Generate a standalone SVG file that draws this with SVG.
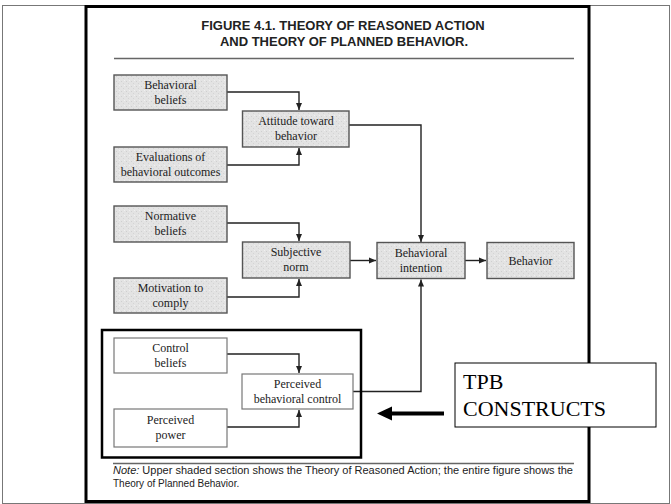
<svg xmlns="http://www.w3.org/2000/svg" width="671" height="504" viewBox="0 0 671 504">
<style>
.shaded{fill:url(#stip);stroke:#555;stroke-width:1.4}
.plain{fill:#fff;stroke:#777;stroke-width:1.2}
.bt{font-family:"Liberation Serif","DejaVu Serif",serif;font-size:12px;fill:#222;text-anchor:middle}
.title{font-family:"Liberation Sans","DejaVu Sans",sans-serif;font-weight:bold;font-size:13px;fill:#222;text-anchor:middle}
.note{font-family:"Liberation Sans","DejaVu Sans",sans-serif;font-size:10px;fill:#222}
.conn{fill:none;stroke:#222;stroke-width:1.4}
.rule{stroke:#666;stroke-width:1.6}
</style>
<defs>
<marker id="ah" markerWidth="8" markerHeight="8" refX="7" refY="4" orient="auto" markerUnits="userSpaceOnUse">
<path d="M0,1 L7,4 L0,7 Z" fill="#222"/>
</marker>
<pattern id="stip" width="5" height="5" patternUnits="userSpaceOnUse">
<rect width="5" height="5" fill="#e3e3e3"/>
<rect x="1" y="1" width="1" height="1" fill="#cfcfcf"/>
<rect x="3" y="3" width="1" height="1" fill="#d4d4d4"/>
<rect x="4" y="0" width="1" height="1" fill="#f0f0f0"/>
</pattern>
</defs>
<rect x="0" y="0" width="671" height="504" fill="#fff"/>
<rect x="2.5" y="5.5" width="667" height="498" fill="none" stroke="#777" stroke-width="1"/>
<rect x="86" y="6.5" width="503" height="495" fill="none" stroke="#000" stroke-width="3"/>
<g id="title">
<text class="title" x="343" y="30">FIGURE 4.1.  THEORY OF REASONED ACTION</text>
<text class="title" x="344" y="46">AND THEORY OF PLANNED BEHAVIOR.</text>
<line class="rule" x1="114" y1="58.5" x2="574" y2="58.5"/>
</g>
<g id="connectors">
<path class="conn" d="M227,92 H299 V110" marker-end="url(#ah)"/>
<path class="conn" d="M227,165 H299 V148" marker-end="url(#ah)"/>
<path class="conn" d="M227,223 H299 V241" marker-end="url(#ah)"/>
<path class="conn" d="M227,297 H299 V279" marker-end="url(#ah)"/>
<path class="conn" d="M349,125 H421 V242" marker-end="url(#ah)"/>
<path class="conn" d="M350,260.5 H376" marker-end="url(#ah)"/>
<path class="conn" d="M465,260.5 H486" marker-end="url(#ah)"/>
<path class="conn" d="M227,354 H299 V373" marker-end="url(#ah)"/>
<path class="conn" d="M227,427 H299 V410" marker-end="url(#ah)"/>
<path class="conn" d="M353,391.5 H421 V279.5" marker-end="url(#ah)"/>
</g>
<g id="n-behavioral-beliefs">
<rect class="shaded" x="114" y="75" width="113" height="35"/>
<text class="bt" x="170.5" y="89">Behavioral</text>
<text class="bt" x="170.5" y="104">beliefs</text>
</g>
<g id="n-attitude">
<rect class="shaded" x="242.5" y="111" width="106.5" height="36"/>
<text class="bt" x="296" y="125">Attitude toward</text>
<text class="bt" x="296" y="140">behavior</text>
</g>
<g id="n-evaluations">
<rect class="shaded" x="114" y="147" width="113" height="35"/>
<text class="bt" x="170.5" y="161">Evaluations of</text>
<text class="bt" x="170.5" y="176">behavioral outcomes</text>
</g>
<g id="n-normative-beliefs">
<rect class="shaded" x="114" y="206" width="113" height="36"/>
<text class="bt" x="170.5" y="220">Normative</text>
<text class="bt" x="170.5" y="235">beliefs</text>
</g>
<g id="n-subjective-norm">
<rect class="shaded" x="242.5" y="242" width="107.5" height="36"/>
<text class="bt" x="296" y="256">Subjective</text>
<text class="bt" x="296" y="271">norm</text>
</g>
<g id="n-motivation">
<rect class="shaded" x="114" y="278" width="113" height="35"/>
<text class="bt" x="170.5" y="292">Motivation to</text>
<text class="bt" x="170.5" y="307">comply</text>
</g>
<g id="n-behavioral-intention">
<rect class="shaded" x="377" y="242.5" width="88" height="36"/>
<text class="bt" x="421" y="257">Behavioral</text>
<text class="bt" x="421" y="272">intention</text>
</g>
<g id="n-behavior">
<rect class="shaded" x="487" y="242.5" width="87" height="36"/>
<text class="bt" x="530.5" y="265">Behavior</text>
</g>
<g id="tpb-frame">
<rect x="102" y="330" width="259" height="127.5" fill="none" stroke="#000" stroke-width="2.5"/>
</g>
<g id="n-control-beliefs">
<rect class="plain" x="114" y="338" width="113" height="35"/>
<text class="bt" x="170.5" y="352">Control</text>
<text class="bt" x="170.5" y="367">beliefs</text>
</g>
<g id="n-pbc">
<rect class="plain" x="242" y="374" width="111" height="35"/>
<text class="bt" x="297.5" y="388">Perceived</text>
<text class="bt" x="297.5" y="403">behavioral control</text>
</g>
<g id="n-perceived-power">
<rect class="plain" x="114" y="409" width="113" height="38"/>
<text class="bt" x="170.5" y="424">Perceived</text>
<text class="bt" x="170.5" y="439">power</text>
</g>
<g id="tpb-label">
<line x1="444" y1="413.5" x2="390" y2="413.5" stroke="#000" stroke-width="4"/>
<polygon points="377,413.5 392,406.5 392,420.5" fill="#000"/>
<rect x="455" y="363" width="201" height="64" fill="#fff" stroke="#000" stroke-width="1"/>
<text x="463" y="389" font-family="Liberation Serif, serif" font-size="22" fill="#000">TPB</text>
<text x="463" y="416" font-family="Liberation Serif, serif" font-size="22" fill="#000">CONSTRUCTS</text>
</g>
<g id="note">
<line class="rule" x1="113" y1="463.5" x2="574" y2="463.5"/>
<text class="note" x="113" y="474" textLength="460" lengthAdjust="spacingAndGlyphs"><tspan font-style="italic">Note:</tspan> Upper shaded section shows the Theory of Reasoned Action; the entire figure shows the</text>
<text class="note" x="113" y="487">Theory of Planned Behavior.</text>
</g>
</svg>
